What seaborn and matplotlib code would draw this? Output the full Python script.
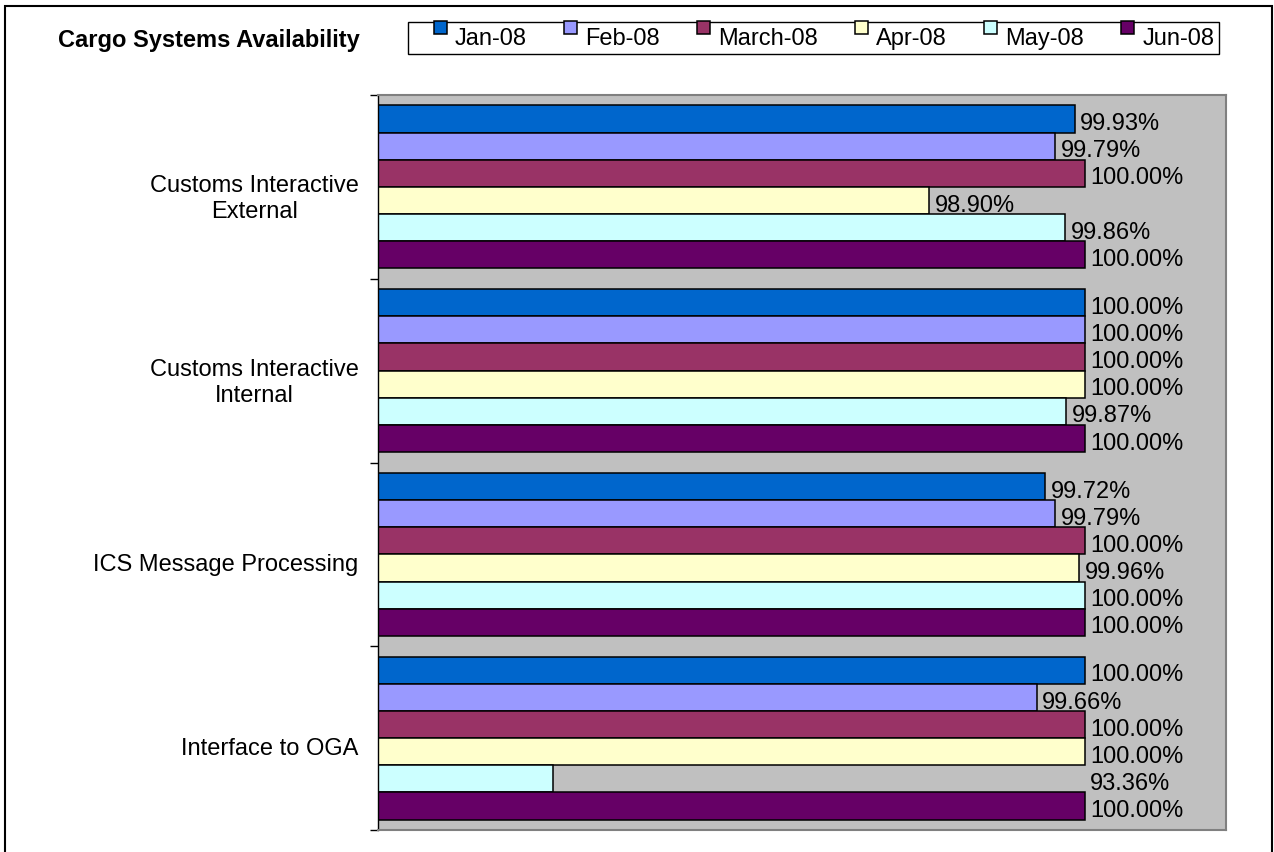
import numpy as np
import pandas as pd
import seaborn as sns
from matplotlib import pyplot as plt
from matplotlib.patches import Rectangle
from matplotlib.legend_handler import HandlerPatch
from matplotlib import transforms

# data
systems = ["Customs Interactive\nExternal", "Customs Interactive\nInternal",
           "ICS Message Processing", "Interface to OGA"]
months = ["Jan-08", "Feb-08", "March-08", "Apr-08", "May-08", "Jun-08"]
colors = ["#0066CC", "#9999FF", "#993366", "#FFFFCC", "#CCFFFF", "#660066"]

# printed availability (%) per month, one value per system
jan = [99.93, 100.00, 99.72, 100.00]
feb = [99.79, 100.00, 99.79, 99.66]
mar = [100.00, 100.00, 100.00, 100.00]
apr = [98.90, 100.00, 99.96, 100.00]
may = [99.86, 99.87, 100.00, 93.36]
jun = [100.00, 100.00, 100.00, 100.00]

# the May-08 OGA bar is drawn to ~96.24 in the source although labelled 93.36%
may_drawn = [99.86, 99.87, 100.00, 96.24]

printed = [jan, feb, mar, apr, may, jun]
drawn = [jan, feb, mar, apr, may_drawn, jun]

rows = []
for m, vals in zip(months, drawn):
    for s, v in zip(systems, vals):
        rows.append({"system": s, "month": m, "value": v})
df = pd.DataFrame(rows)

plt.rcParams["font.family"] = ["Liberation Sans", "DejaVu Sans"]
FS = 17

fig = plt.figure(figsize=(12.74, 8.53), dpi=100)
ax = fig.add_axes([378 / 1274, 1 - 831 / 853, (1226 - 378) / 1274, (831 - 96) / 853])
ax.set_facecolor("#C0C0C0")

sns.barplot(data=df, y="system", x="value", hue="month", orient="h",
            order=systems, hue_order=months, palette=colors, saturation=1,
            width=0.886, edgecolor="black", linewidth=1.1, errorbar=None,
            legend=False, ax=ax)

ax.set_xlim(95, 101)
ax.set_xticks([])
ax.set_xlabel("")
ax.set_ylabel("")

# value labels at the bar ends
for cont, vals, bars_v in zip(ax.containers, printed, drawn):
    for bar, pv, bv in zip(cont, vals, bars_v):
        lx = bv if abs(pv - bv) < 0.005 else 100.0
        cy = bar.get_y() + bar.get_height() / 2
        ax.annotate(f"{pv:.2f}%", xy=(lx, cy), xytext=(4, -3),
                    textcoords="offset points", ha="left", va="center",
                    fontsize=FS, color="black", annotation_clip=False)

# category labels at centres, tick marks between categories
ax.set_yticks(np.arange(-0.5, len(systems)), minor=True)
ax.tick_params(axis="y", which="major", length=0, pad=14, labelsize=FS)
ax.tick_params(axis="y", which="minor", length=6, width=1, color="black", direction="out")
shift = transforms.ScaledTranslation(0, -0.07, fig.dpi_scale_trans)
for lab in ax.get_yticklabels():
    lab.set_multialignment("center")
    lab.set_transform(lab.get_transform() + shift)

for side in ["top", "right", "bottom"]:
    ax.spines[side].set_color("#808080")
    ax.spines[side].set_linewidth(1.5)
ax.spines["left"].set_color("black")
ax.spines["left"].set_linewidth(1)

# title and legend
fig.text(58 / 1274, 1 - 47 / 853, "Cargo Systems Availability", fontsize=FS,
         fontweight="bold", ha="left", va="baseline")


def raised_square(legend, orig_handle, xdescent, ydescent, width, height, fontsize):
    s = 0.55 * fontsize
    return Rectangle((width - s - xdescent, 0.42 * fontsize - ydescent), s, s)


handles = [Rectangle((0, 0), 1, 1, facecolor=c, edgecolor="black", linewidth=1.1)
           for c in colors]
leg = fig.legend(handles, months, loc="center", ncol=6,
                 bbox_to_anchor=((406 + 1221) / 2 / 1274, 1 - 39 / 853),
                 fontsize=FS, frameon=True, fancybox=False, framealpha=1,
                 edgecolor="black", borderpad=0.2, handlelength=1.45,
                 handleheight=0.7, handletextpad=0.34, columnspacing=0.68,
                 handler_map={Rectangle: HandlerPatch(patch_func=raised_square)})
leg.get_frame().set_linewidth(1)

# outer chart border
fig.patches.append(Rectangle((5 / 1274, -0.05), (1272 - 5) / 1274, 1.05 - 7 / 853,
                             transform=fig.transFigure, fill=False,
                             edgecolor="black", linewidth=1.5))

fig.savefig("out.png", dpi=100)
